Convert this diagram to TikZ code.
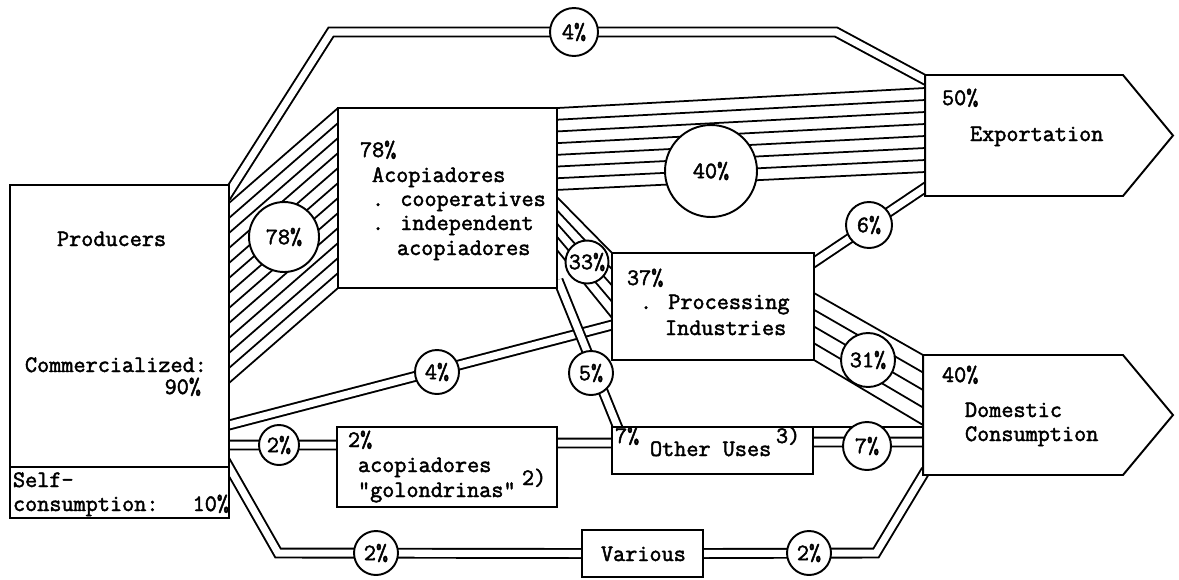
\documentclass[tikz,border=0pt]{standalone}
\usepackage{fontspec}
\newfontfamily\twfont{Latin Modern Mono}[FakeBold=2]
\usetikzlibrary{calc,backgrounds}
\begin{document}
\begin{tikzpicture}[x=0.02cm, y=-0.02cm,
  font=\twfont\fontsize{13.4}{16}\selectfont,
  box/.style={draw, line width=1.1pt, fill=white, inner sep=0pt, outer sep=0pt},
  area/.style={inner sep=0pt, outer sep=0pt},
  txt/.style={inner sep=0pt, outer sep=0pt, anchor=base west},
  pct/.style={circle, draw, line width=1.1pt, fill=white, inner sep=0pt, outer sep=0pt},
  dbl/.style={draw, line width=1.1pt, double=white, double distance=4pt},
  hatch/.style={draw, line width=1pt},
  plain/.style={draw, line width=1pt}]

\useasboundingbox (0,0) rectangle (1179,579);

% boxes
\node[box, minimum width=4.38cm, minimum height=5.64cm] (prod) at (119.5,326) {};
\node[box, minimum width=4.38cm, minimum height=1.02cm] (self) at (119.5,492.5) {};
\node[box, minimum width=4.38cm, minimum height=3.6cm] (acop) at (447.5,198) {};
\node[box, minimum width=4.04cm, minimum height=2.14cm] (proc) at (713,306.5) {};
\node[box, minimum width=4.4cm, minimum height=1.6cm] (golo) at (447,467) {};
\node[box, minimum width=4.02cm, minimum height=0.94cm] (other) at (712.5,450.5) {};
\node[box, minimum width=2.42cm, minimum height=0.94cm] (various) at (642.5,553.5) {};
\node[area, minimum width=3.96cm, minimum height=2.42cm] (exp) at (1024,135.5) {};
\node[area, minimum width=4.0cm, minimum height=2.4cm] (dom) at (1023,415) {};
\draw[box] (exp.north west) -- (exp.north east) -- ($(exp.east)+(50,0)$) -- (exp.south east) -- (exp.south west) -- cycle;
\draw[box] (dom.north west) -- (dom.north east) -- ($(dom.east)+(50,0)$) -- (dom.south east) -- (dom.south west) -- cycle;

\begin{scope}[on background layer]
  % hatched bands
  \foreach \i in {0,...,12}
    \draw[hatch] ($(prod.north east)+(0,{18+15*\i})$) -- ($(acop.north west)+(0,{15*\i})$);
  \foreach \i in {0,...,7}
    \draw[hatch] ($(acop.north east)+(0,{11.7*\i})$) -- ($(exp.north west)+(0,{13+12*\i})$);
  \foreach \i in {0,...,4}
    \draw[hatch] ($(acop.north east)+(0,{89+13.25*\i})$) -- ($(proc.north west)+(0,{16.25*\i})$);
  \foreach \i in {0,...,4}
    \draw[hatch] ($(proc.north east)+(0,{40+16.75*\i})$) -- ($(dom.north west)+(0,{17.5*\i})$);
  % double links
  \coordinate (r1) at (331,32);
  \coordinate (r2) at (836,32);
  \draw[dbl] ($(prod.north east)+(-3,12)$) -- (r1) -- (r2) -- ($(exp.north west)+(4,7)$);
  \draw[dbl] ($(prod.north east)+(-4,241)$) -- ($(proc.north west)+(4,71)$);
  \draw[dbl] ($(acop.south east)+(1,-8)$) -- ($(other.north west)+(8,6)$);
  \draw[dbl] ($(prod.north east)+(-4,260)$) -- ($(golo.north west)+(4,18)$);
  \draw[dbl] ($(golo.north east)+(-4,16)$) -- ($(other.north west)+(4,16)$);
  \draw[plain] (other.north east) -- ($(dom.north west)+(0,72)$);
  \draw[dbl] ($(other.north east)+(-4,15)$) -- ($(dom.north west)+(4,87)$);
  \coordinate (v1) at (278,553);
  \draw[dbl] ($(prod.south east)+(-4,-7)$) -- (v1) -- ($(various.west)+(4,0)$);
  \coordinate (v2) at (876,553);
  \draw[dbl] ($(various.east)+(-4,0)$) -- (v2) -- ($(dom.south west)+(3,-5)$);
  \draw[dbl] ($(proc.north east)+(-4,12)$) -- ($(exp.south west)+(4,-11)$);
\end{scope}

% percentage circles
\node[pct, minimum size=0.96cm] (c4t) at (574,32) {4\%};
\node[pct, minimum size=1.4cm] (c78) at (284,237) {78\%};
\node[pct, minimum size=1.84cm] (c40) at (711,171) {40\%};
\node[pct, minimum size=0.92cm] (c6) at (869,225) {6\%};
\node[pct, minimum size=0.86cm] (c33) at (587,262) {33\%};
\node[pct, minimum size=1.08cm] (c31) at (868,360) {31\%};
\node[pct, minimum size=0.88cm] (c4) at (437,372) {4\%};
\node[pct, minimum size=0.88cm] (c5) at (591,373) {5\%};
\node[pct, minimum size=0.8cm] (c2a) at (279,445) {2\%};
\node[pct, minimum size=0.96cm] (c7) at (867,446) {7\%};
\node[pct, minimum size=0.88cm] (c2b) at (376,553) {2\%};
\node[pct, minimum size=0.88cm] (c2c) at (809,553) {2\%};

% texts
\node[txt] (tprod) at (57,246) {Producers};
\node[txt] (tcom) at (25,372) {Commercialized:};
\node[txt, anchor=base east] (t90) at (201,394) {90\%};
\node[txt] (tself) at (13,487) {Self-};
\node[txt] (tcons) at (13,511) {consumption:};
\node[txt, anchor=base east] (t10) at (229,511) {10\%};

\node[txt] (ta1) at (360,157) {78\%};
\node[txt] (ta2) at (372,182) {Acopiadores};
\node[txt] (ta3) at (372,206) {. cooperatives};
\node[txt] (ta4) at (372,230) {. independent};
\node[txt] (ta5) at (397,255) {acopiadores};

\node[txt] (tg1) at (348,447) {2\%};
\node[txt] (tg2) at (358,472) {acopiadores};
\node[txt] (tg3) at (358,497) {"golondrinas"};
\node[txt] (tg4) at (522,485) {2)};

\node[txt] (tp1) at (627,285) {37\%};
\node[txt] (tp2) at (640,309) {. Processing};
\node[txt] (tp3) at (665,335) {Industries};

\node[txt] (to1) at (615,443) {7\%};
\node[txt] (to2) at (650,456) {Other Uses};
\node[txt] (to3) at (776,443) {3)};

\node[txt] (tv) at (601,561) {Various};

\node[txt] (te1) at (942,105) {50\%};
\node[txt] (te2) at (970,141) {Exportation};

\node[txt] (td1) at (942,382) {40\%};
\node[txt] (td2) at (965,417) {Domestic};
\node[txt] (td3) at (965,441) {Consumption};
\end{tikzpicture}
\end{document}
